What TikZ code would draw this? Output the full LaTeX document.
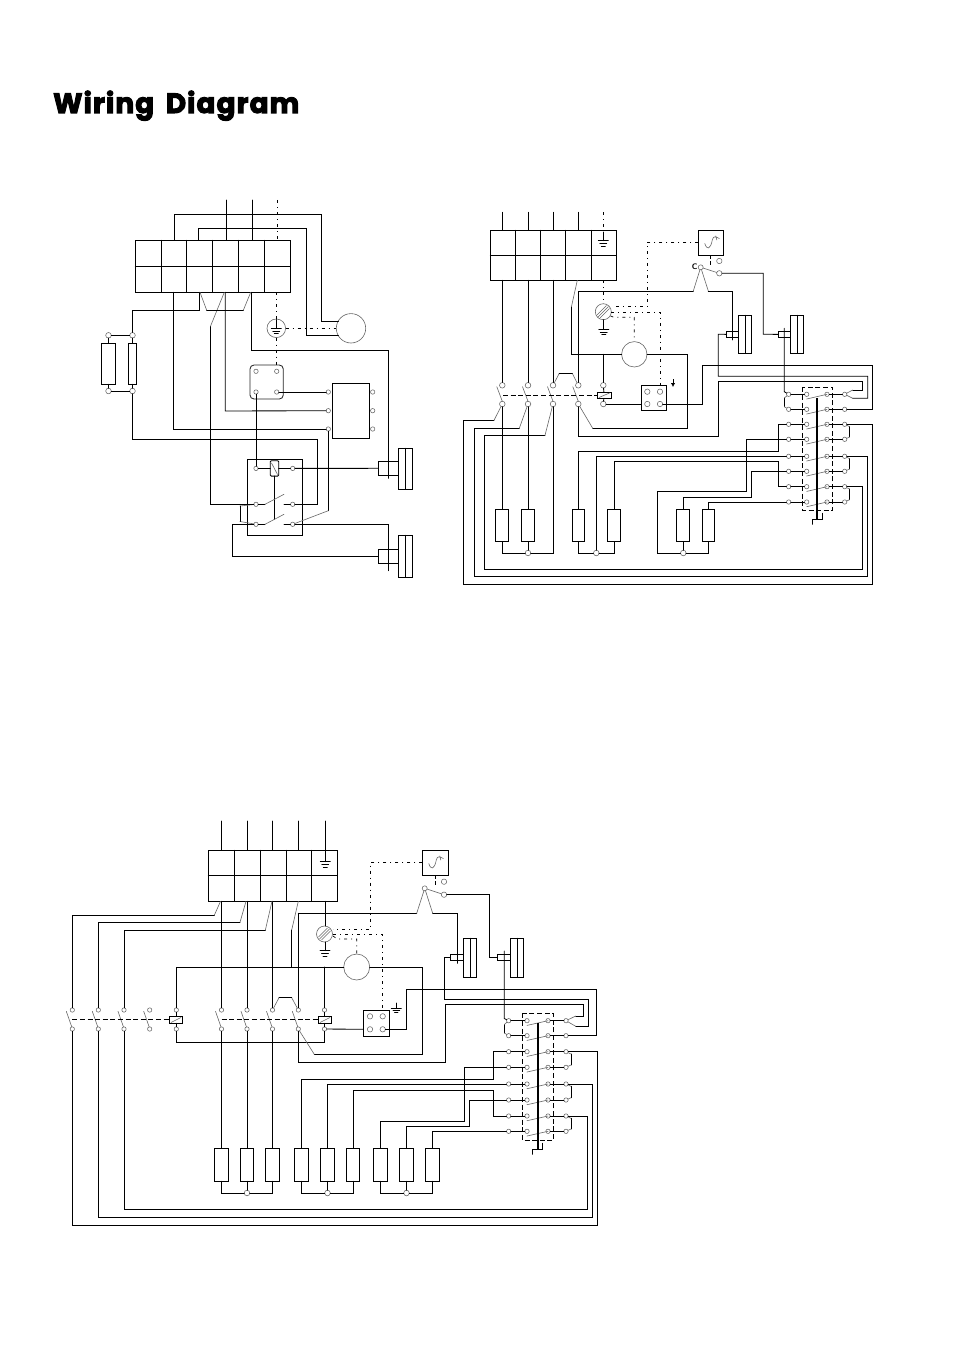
\documentclass[tikz,border=0pt]{standalone}
\usepackage{fontspec}
\usetikzlibrary{arrows.meta}
\newfontfamily\titlefont{Poppins}[BoldFeatures={FakeBold=3.6},LetterSpace=4]
\tikzset{
  wire/.style={draw=black,line width=0.85pt,line cap=round,line join=miter},
  blade/.style={draw=black!60,line width=0.6pt,line cap=round},
  dashdot/.style={draw=black,line width=0.7pt,dash pattern=on 3pt off 4pt on 1pt off 4pt},
  dashline/.style={draw=black,line width=0.85pt,dash pattern=on 5pt off 2.6pt},
  term/.style={circle,draw=black!60,line width=0.55pt,inner sep=0pt,outer sep=0pt,minimum size=4.4pt},
  bigterm/.style={term,minimum size=5.6pt},
  rbox/.style={rectangle,draw=black,line width=0.85pt,inner sep=0pt,outer sep=0pt},
  round motor/.style={circle,draw=black!60,line width=0.6pt,inner sep=0pt,outer sep=0pt},
  rod/.style={draw=black,line width=1.8pt},
}
% named rectangle from corners
\newcommand\rb[6][]{\pgfmathsetlengthmacro\rbw{(#5)-(#3)}\pgfmathsetlengthmacro\rbh{(#6)-(#4)}%
  \node[rbox,minimum width=\rbw,minimum height=\rbh,#1] (#2) at ({((#3)+(#5))/2},{((#4)+(#6))/2}) {};}
% heater: name, centre x, half width, top, bottom
\newcommand\heater[5]{\rb{#1}{#2-#3}{#4}{#2+#3}{#5}}
\newcommand\gnd[2]{\draw[wire] (#1-5,#2)--(#1+5,#2) (#1-3.4,#2+2.7)--(#1+3.4,#2+2.7) (#1-2,#2+5.4)--(#1+2,#2+5.4);}
\newcommand\wave[2]{\draw[blade] (#1+6.5,#2+13.5) .. controls (#1+8.5,#2+20) and (#1+12,#2+20) .. (#1+14,#2+10) .. controls (#1+15,#2+5) and (#1+18,#2+7) .. (#1+21,#2+8.5) (#1+17.5,#2+6)--(#1+18.5,#2+10);}
\newcommand\screw[3]{\node[round motor,minimum size=16pt] (#1) at (#2,#3) {};
  \draw[blade] (#2-6,#3+3)--(#2+3,#3-6) (#2-5,#3+5)--(#2+5,#3-5) (#2-3,#3+6)--(#2+6,#3-3);}
% switch bank: prefix, x outer, x in, x out, x far, y list as /-separated
\newcommand\bank[6]{%
  \foreach \n/\y in {#6}{%
    \node[term] (#1o\n) at (#2,\y) {};
    \node[term] (#1p\n) at (#3,\y) {};
    \node[term] (#1q\n) at (#4,\y) {};
    \node[term] (#1r\n) at (#5,\y) {};
    \draw[wire] (#1o\n)--(#1p\n) (#1q\n)--(#1r\n);
    \draw[blade] (#3,\y+4.7)--(#4,\y);
  }}
% double fan unit: name, x small left, x big left, x mid, x big right, y small top, y small bot, y big top, y big bot
\newcommand\fan[9]{\rb{#1s}{#2}{#6}{#3}{#7}\rb{#1b}{#3}{#8}{#5}{#9}\draw[wire] (#4,#8)--(#4,#9);}
\begin{document}
\begin{tikzpicture}[x=1pt,y=-1pt]
\useasboundingbox (0,0) rectangle (954,1351);
\fill[white] (0,0) rectangle (954,1351);
\node[anchor=base west,inner sep=0pt] (title) at (53,113) {\resizebox{246pt}{!}{\titlefont\bfseries Wiring\, Diagram}};

%%%%%%%%%%%%%%%%%%%% DIAGRAM 1
\rb{blockA}{135.3}{240.3}{290.3}{292.3}
\draw[wire] (135.3,266.3)--(290.3,266.3);
\foreach \x in {161.3,186.3,212.3,238.3,264.3} \draw[wire] (\x,240.3)--(\x,292.3);
\foreach \x in {226.3,252.3} \draw[wire] (\x,200)--(\x,240.3);
\draw[dashdot] (277.3,200)--(277.3,240.3);
\node[round motor,minimum size=29.4pt] (mA) at (351,328.3) {};
\node[round motor,minimum size=18.6pt] (eA) at (276.3,328.3) {};
\draw[wire] (276.3,319.5)--(276.3,328.3); \gnd{276.3}{328.3}
\draw[dashdot] (276.3,292.3)--(eA) (eA)--(mA) (eA)--(276.3,365);
\draw[wire] (174.3,240.3)--(174.3,214.3)--(321.3,214.3)--(321.3,321.3)--(338.5,321.3);
\draw[wire] (198.3,240.3)--(198.3,228.3)--(306.3,228.3)--(306.3,335.3)--(338.5,335.3);
% heaters
\rb{hA1}{101.3}{343.3}{115.7}{384.3}
\rb{hA2}{128.3}{343.3}{136.7}{384.3}
\node[bigterm] (a1) at (108.5,335.3) {};
\node[bigterm] (a2) at (132.5,335.3) {};
\node[bigterm] (a3) at (108.5,391) {};
\node[bigterm] (a4) at (132.5,391) {};
\draw[wire] (a1)--(a2) (a3)--(a4) (a1)--(hA1) (a2)--(hA2) (a3)--(hA1) (a4)--(hA2);
\draw[wire] (a2)--(132.5,310.3)--(199.3,310.3)--(199.3,292.3);
\draw[blade] (200,292.3)--(206.7,310.3) (243.3,310.3)--(250.7,292.3) (224.3,292.3)--(210.3,326.7);
\draw[wire] (206.7,310.3)--(243.3,310.3);
\draw[wire] (251.7,292.3)--(251.7,350.3)--(388.3,350.3)--(388.3,478.3);
% rounded square
\draw[wire,rounded corners=4pt,draw=black!85] (250,365) rectangle (283.3,399);
\node[term] (a5) at (256,371.3) {};
\node[term] (a6) at (276.7,371.3) {};
\node[term] (a7) at (256,392) {};
\node[term] (a8) at (276.7,392) {};
% contactor box
\rb{boxA}{332.3}{383.3}{369.3}{438.3}
\foreach \n/\y in {1/392,2/410.7,3/429}{\node[term] (b\n) at (328.3,\y) {}; \node[term] (bb\n) at (372.7,\y) {};}
\draw[wire] (a8)--(b1);
\draw[wire] (225.3,292.3)--(225.3,411)--(b2);
\draw[wire] (173.3,292.3)--(173.3,429)--(b3);
% relay
\rb{relayA}{247.3}{459.3}{302.3}{535.3}
\node[rbox,rounded corners=1pt,minimum width=8.4pt,minimum height=15.4pt] (coilA) at (274.5,468.4) {};
\draw[blade] (271.5,463)--(277.5,474.5);
\node[term] (c1) at (256,468.4) {};
\node[term] (c2) at (292.7,468.4) {};
\node[term] (c3) at (256,504.3) {};
\node[term] (c4) at (292.7,504.3) {};
\node[term] (c5) at (256,524.3) {};
\node[term] (c6) at (292.7,524.3) {};
\draw[wire] (c1)--(coilA) (coilA)--(c2);
\draw[wire] (coilA.south)--(274.5,519.3);
\draw[wire] (a7)--(c1);
\draw[wire] (c3)--(265,504.3) (284,504.3)--(c4);
\draw[wire] (c5)--(265,524.3) (284,524.3)--(c6);
\draw[blade] (265,504.3)--(284,494.3) (265,524.3)--(284,514.3);
\draw[blade] (c3)--(240,506) (240,521.5)--(c5);
\draw[wire] (240,506)--(240,521.5);
\draw[wire] (210.3,326.7)--(210.3,504.3)--(c3);
\draw[wire] (a4)--(132.5,439.3)--(317.7,439.3)--(317.7,504.3)--(c4);
\draw[wire] (b3)--(328.3,510.7);
\draw[blade] (328.3,510.7)--(c6);
\fan{fA}{378.3}{398.3}{405.3}{412.7}{461.3}{475.3}{448.3}{489.3}
\fan{fB}{378.3}{398.3}{405.3}{412.7}{549.3}{563.3}{535.3}{577.3}
\draw[wire] (c2)--(fAs);
\draw[wire] (c5)--(232.3,524.3)--(232.3,556.3)--(fBs);
\draw[wire] (c6)--(388.3,524.3)--(388.3,570.7);

%%%%%%%%%%%%%%%%%%%% DIAGRAM 2
\rb{blockB}{490.3}{230.3}{616.3}{280.3}
\draw[wire] (490.3,255.3)--(616.3,255.3);
\foreach \x in {515.3,540.3,565.3,591.3} \draw[wire] (\x,230.3)--(\x,280.3);
\foreach \x in {502.3,528,553,578.3} \draw[wire] (\x,212.3)--(\x,230.3);
\draw[dashdot] (603.3,212.3)--(603.3,231);
\draw[wire] (603.3,232)--(603.3,240.7); \gnd{603.3}{240.7}
\draw[dashdot] (603.3,280.3)--(603.3,303.5);
\screw{eB}{603.3}{311.7}
\draw[wire] (603.8,319.7)--(603.8,329.3); \gnd{603.8}{329.3}
\node[round motor,minimum size=25.4pt] (mB) at (634.3,354.3) {};
% contacts
\foreach \n/\x in {1/502.3,2/528,3/553,4/578.3,5/603.3}{
  \node[bigterm] (u\n) at (\x,385.3) {};
  \node[bigterm] (l\n) at (\x,404) {};
}
\foreach \x in {502.3,528,553,578.3} \draw[blade] (\x-5.5,386.7)--(\x,401.3);
\draw[dashline] (503,395.3)--(597.3,395.3);
\rb{coilB}{597.3}{392.3}{611}{398.3}
\draw[blade] (599,397.5)--(609.5,393);
\draw[wire] (u5)--(603.3,354.3);
\draw[wire] (u5)--(coilB) (coilB)--(l5);
\rb{qB}{641.3}{385.3}{666.7}{410.7}
\node[term,minimum size=5.4pt] (q1) at (647.3,391.7) {};
\node[term,minimum size=5.4pt] (q2) at (660,391.7) {};
\node[term,minimum size=5.4pt] (q3) at (647.3,404) {};
\node[term,minimum size=5.4pt] (q4) at (660,404) {};
\draw[wire] (l5)--(641.3,404);
\draw[-{Latex[length=4pt,width=4.5pt]},line width=1pt] (673,379)--(673,387);
\draw[wire] (502.3,280.3)--(u1);
\draw[wire] (528,280.3)--(u2);
\draw[wire] (553,280.3)--(u3);
\draw[blade] (577.3,280.3)--(571.3,307.3);
\draw[wire] (571.3,307.3)--(571.3,354.3)--(mB);
\draw[blade] (u3)--(559.3,373.3) (572.3,373.3)--(u4);
\draw[wire] (559.3,373.3)--(572.3,373.3);
\draw[wire] (u4)--(578.3,291)--(693.3,291);
% pressure switch
\rb{psB}{698.3}{230}{723.7}{255.3}
\wave{698.3}{230}
\node[term,minimum size=5pt] (pc) at (700.7,267.3) {};
\node[term,minimum size=5.4pt] (pu) at (719.3,261) {};
\node[term,minimum size=5.4pt] (pl) at (719.3,273.3) {};
\node[font=\fontsize{8}{8}\selectfont\bfseries\sffamily,inner sep=0pt] (cB) at (694.6,267) {C};
\draw[dashdot,dash pattern=on 4pt off 1.5pt on 4pt] (710.7,255.3)--(710.7,265);
\draw[blade] (693.3,291)--(pc) (pc)--(708.3,291) (pc)--(pl);
\draw[dashdot] (698.3,242.3)--(647.3,242.3)--(647.3,306.7)--(612,306.7);
\draw[dashdot] (611.3,312.3)--(660.7,312.3)--(660.7,385.3);
\draw[dashdot] (610.5,316)--(614,317.3)--(634.3,317.3)--(634.3,341);
\fan{fC}{726.3}{738.3}{745.3}{751.7}{331}{337.7}{315.3}{353.3}
\fan{fD}{778.3}{790.3}{797.3}{803.7}{331}{337.7}{315.3}{353.3}
\draw[wire] (708.3,291)--(732.3,291)--(732.3,340);
\draw[wire] (pl)--(763.3,273.3)--(763.3,334.3)--(fDs);
\draw[wire] (mB)--(687.3,354.3)--(687.3,428.3)--(592.7,428.3);
\draw[blade] (592.7,428.3)--(l4);
\draw[wire] (l4)--(578.3,436.3)--(718.3,436.3)--(718.3,381.5)--(862.7,381.5)--(862.7,390)--(852.7,390);
\draw[wire] (fCs)--(718.3,334.3)--(718.3,376.3)--(867.7,376.3)--(867.7,398.3)--(852.7,398.3);
% heaters
\heater{rB1}{502.3}{6.5}{509.3}{541.5}
\heater{rB2}{528}{6.5}{509.3}{541.5}
\heater{rB3}{578.3}{6.2}{509.3}{541.5}
\heater{rB4}{614.3}{6.5}{509.3}{541.5}
\heater{rB5}{683.3}{6.5}{509.3}{541.5}
\heater{rB6}{708.3}{6.2}{509.3}{541.5}
\node[bigterm] (s1) at (528,553) {};
\node[bigterm] (s2) at (596.3,553) {};
\node[bigterm] (s3) at (683.3,553) {};
\draw[wire] (l1)--(rB1) (l2)--(rB2) (rB2)--(s1);
\draw[wire] (rB1.south)--(502.3,553)--(s1) (s1)--(553,553)--(l3);
\draw[wire] (rB3.south)--(578.3,553)--(s2) (s2)--(614.3,553)--(rB4.south);
\draw[wire] (rB5)--(s3) (s3)--(708.3,553)--(rB6.south);
% bank
\draw[dashline] (802.3,387.3) rectangle (832.7,510.3);
\bank{k}{788.7}{806.7}{827}{844.7}{1/394.3,2/409.3,3/424.3,4/439.3,5/456.3,6/471.3,7/486.7,8/502}
\draw[rod] (817,398.3)--(817,519.3);
\draw[wire] (822.7,513.3)--(822.7,519.3)--(812.3,519.3)--(812.3,524.3);
\draw[wire] (784.3,328.3)--(784.3,391.7)--(ko1);
\draw[wire] (784.3,398)--(784.3,406.7);
\draw[blade] (ko1)--(784.3,398) (784.3,406.7)--(ko2);
\draw[blade] (kr1)--(852.7,390) (kr1)--(852.7,398.3);
\draw[wire] (kr2)--(872.7,409.3)--(872.7,365.7)--(702.3,365.7)--(702.3,404)--(q4);
\foreach \a/\b/\p/\q in {3/4/424.3/439.3,5/6/456.3/471.3,7/8/486.7/502}{
  \draw[wire] (849.5,\p+2.3)--(849.5,\q-2.3);
  \draw[blade] (kr\a)--(849.5,\p+2.3) (849.5,\q-2.3)--(kr\b);
}
\draw[wire] (ko3)--(778.7,424.3)--(778.7,451.3)--(578.3,451.3)--(rB3);
\draw[wire] (ko4)--(746.7,439.3)--(746.7,491.5)--(657.7,491.5)--(657.7,553)--(s3);
\draw[wire] (ko5)--(596.3,456.3)--(s2);
\draw[wire] (ko7)--(778.7,486.7)--(778.7,461.5)--(614.3,461.5)--(rB4);
\draw[wire] (ko6)--(751.7,471.3)--(751.7,497)--(683.3,497)--(rB5);
\draw[wire] (ko8)--(708.3,502)--(rB6);
\draw[wire] (kr3)--(872.7,424.3)--(872.7,584)--(463.3,584)--(463.3,420.3)--(494,420.3);
\draw[blade] (494,420.3)--(l1);
\draw[wire] (kr5)--(867.7,456.3)--(867.7,576.3)--(474.3,576.3)--(474.3,428.3)--(519.3,428.3);
\draw[blade] (519.3,428.3)--(l2);
\draw[wire] (kr7)--(862.7,486.7)--(862.7,569.3)--(484.3,569.3)--(484.3,435.3)--(545,435.3);
\draw[blade] (545,435.3)--(l3);

%%%%%%%%%%%%%%%%%%%% DIAGRAM 3
\rb{blockC}{208.3}{850.3}{337.3}{901.3}
\draw[wire] (208.3,875.3)--(337.3,875.3);
\foreach \x in {234.3,260.3,286.3,311.7} \draw[wire] (\x,850.3)--(\x,901.3);
\foreach \x in {221.5,247,272.5,298.3} \draw[wire] (\x,821)--(\x,850.3);
\draw[wire] (325.3,821)--(325.3,861.7); \gnd{325.3}{861.7}
\screw{eC}{324.5}{934}
\draw[wire] (325.3,901.3)--(325.3,926);
\draw[wire] (325,942)--(325,950.7); \gnd{325}{950.7}
\node[round motor,minimum size=26pt] (mC) at (356.7,967) {};
\foreach \n/\x in {1/72.3,2/98.3,3/124,4/149.7,5/176.3,6/221.5,7/247,8/272.5,9/298.3,10/324.5}{
  \node[term] (v\n) at (\x,1010) {};
  \node[term] (w\n) at (\x,1029) {};
}
\foreach \x in {72.3,98.3,124,149.7,221.5,247,272.5,298.3} \draw[blade] (\x-6,1011.3)--(\x-0.5,1027);
\draw[dashline] (72.3,1019.5)--(169.3,1019.5) (221.5,1019.5)--(318.3,1019.5);
\rb{coilC1}{169.3}{1016.3}{182.7}{1023.3}
\rb{coilC2}{318.3}{1016.3}{331.7}{1023.3}
\draw[blade] (171,1022.5)--(181,1017.5) (320,1022.5)--(330,1017.5);
\draw[wire] (v5)--(176.3,1016.3) (w5)--(176.3,1023.3);
\draw[wire] (v10)--(324.5,1016.3) (w10)--(324.5,1023.3);
\draw[wire] (v5)--(176.3,967)--(343.8,967);
\draw[wire] (v10)--(324.5,967);
\draw[wire] (w5)--(176.3,1042.3)--(324.5,1042.3)--(w10);
\draw[wire] (221.5,901.3)--(v6);
\draw[wire] (247,901.3)--(v7);
\draw[wire] (272.5,901.3)--(v8);
\draw[wire] (298.3,913.3)--(v9);
\draw[blade] (298.3,901.3)--(291.7,930);
\draw[wire] (291.7,930)--(291.7,967);
\draw[blade] (220.5,901.3)--(214.3,915.3) (246,901.3)--(240,922.3) (272,901.3)--(265.3,930.3);
\draw[wire] (214.3,915.3)--(72.3,915.3)--(v1);
\draw[wire] (240,922.3)--(98.3,922.3)--(v2);
\draw[wire] (265.3,930.3)--(124,930.3)--(v3);
\draw[blade] (v8)--(279,997.7) (291.7,997.7)--(v9);
\draw[wire] (279,997.7)--(291.7,997.7);
\draw[wire] (298.3,913.3)--(416.7,913.3);
\rb{qC}{363.3}{1010.3}{389.7}{1036.3}
\node[term,minimum size=5.4pt] (x1) at (370,1016.3) {};
\node[term,minimum size=5.4pt] (x2) at (382.7,1016.3) {};
\node[term,minimum size=5.4pt] (x3) at (370,1029.3) {};
\node[term,minimum size=5.4pt] (x4) at (382.7,1029.3) {};
\draw[wire] (w10)--(363.3,1029.3);
\draw[wire] (396.3,1003)--(396.3,1008.3);
\draw[wire] (391.3,1008.3)--(401.3,1008.3) (393,1010.3)--(399.6,1010.3) (394.6,1012.3)--(398,1012.3);
\rb{psC}{422.3}{850}{448.7}{875.3}
\wave{422.3}{850}
\node[term,minimum size=5pt] (pcC) at (424.7,888.3) {};
\node[term,minimum size=5.4pt] (puC) at (444,881.7) {};
\node[term,minimum size=5.4pt] (plC) at (444,894.7) {};
\draw[dashdot,dash pattern=on 4pt off 1.5pt on 4pt] (435.7,875.3)--(435.7,888);
\draw[blade] (416.7,913.3)--(pcC) (pcC)--(432.7,913.3) (pcC)--(plC);
\draw[dashdot] (422.3,862.3)--(370.7,862.3)--(370.7,929)--(333,929);
\draw[dashdot] (333,934.3)--(382.3,934.3)--(382.3,1010);
\draw[dashdot] (333,936)--(337.3,939)--(356.7,939)--(356.7,954);
\fan{fE}{450.3}{463.3}{470.3}{476.7}{954.3}{960.3}{938.3}{977.3}
\fan{fF}{497.3}{510.3}{517}{523.7}{954.3}{960.3}{938.3}{977.3}
\draw[wire] (432.7,913.3)--(457.3,913.3)--(457.3,963.3);
\draw[wire] (plC)--(489,894.7)--(489,957.3)--(fFs);
\draw[wire] (mC)--(422.3,967)--(422.3,1054.3)--(314.3,1054.3);
\draw[blade] (314.3,1054.3)--(w9);
\draw[wire] (w9)--(298.3,1062.3)--(445.7,1062.3)--(445.7,1004.3)--(583.3,1004.3)--(583.3,1016)--(575.7,1016);
\draw[wire] (fEs)--(444.3,957.3)--(444.3,999.3)--(588.3,999.3)--(588.3,1026.3)--(575.7,1026.3);
% heaters
\foreach \n/\x in {1/221.5,2/247,3/272.5,4/301.5,5/327.5,6/353.3,7/380.5,8/406.5,9/432.5}{
  \heater{rC\n}{\x}{6.6}{1148.3}{1181.3}
}
\draw[wire] (w6)--(rC1) (w7)--(rC2) (w8)--(rC3);
\node[bigterm] (y1) at (247,1193) {};
\node[bigterm] (y2) at (327.5,1193) {};
\node[bigterm] (y3) at (406.5,1193) {};
\draw[wire] (rC2)--(y1) (rC5)--(y2) (rC8)--(y3);
\draw[wire] (rC1.south)--(221.5,1193)--(y1) (y1)--(272.5,1193)--(rC3.south);
\draw[wire] (rC4.south)--(301.5,1193)--(y2) (y2)--(353.3,1193)--(rC6.south);
\draw[wire] (rC7.south)--(380.5,1193)--(y3) (y3)--(432.5,1193)--(rC9.south);
% bank
\draw[dashline] (522.3,1013.3) rectangle (553.3,1140.3);
\bank{n}{508.7}{527}{548}{566}{1/1020.7,2/1035.7,3/1051.7,4/1067.3,5/1084,6/1100,7/1116,8/1131.3}
\draw[rod] (538,1023.3)--(538,1149.3);
\draw[wire] (542.7,1143.3)--(542.7,1149.3)--(532.7,1149.3)--(532.7,1154.3);
\draw[wire] (504.3,951)--(504.3,1018.5)--(no1);
\draw[wire] (504.3,1024.5)--(504.3,1033);
\draw[blade] (no1)--(504.3,1024.5) (504.3,1033)--(no2);
\draw[blade] (nr1)--(575.7,1016) (nr1)--(575.7,1026.3);
\draw[wire] (nr2)--(596.7,1035.7)--(596.7,989.7)--(406.3,989.7)--(406.3,1029.3)--(x4);
\foreach \a/\b/\p/\q in {3/4/1051.7/1067.3,5/6/1084/1100,7/8/1116/1131.3}{
  \draw[wire] (571,\p+2.3)--(571,\q-2.3);
  \draw[blade] (nr\a)--(571,\p+2.3) (571,\q-2.3)--(nr\b);
}
\draw[wire] (no3)--(493.7,1051.7)--(493.7,1079.3)--(301.5,1079.3)--(rC4);
\draw[wire] (no4)--(464.3,1067.3)--(464.3,1121)--(380.5,1121)--(rC7);
\draw[wire] (no5)--(327.5,1084)--(rC5);
\draw[wire] (no6)--(469.3,1100)--(469.3,1126.3)--(406.5,1126.3)--(rC8);
\draw[wire] (no7)--(493.7,1116)--(493.7,1090.3)--(353.3,1090.3)--(rC6);
\draw[wire] (no8)--(432.5,1131.3)--(rC9);
\draw[wire] (nr3)--(597.7,1051.7)--(597.7,1225.3)--(72.3,1225.3)--(w1);
\draw[wire] (nr5)--(592.3,1084)--(592.3,1217.3)--(98.3,1217.3)--(w2);
\draw[wire] (nr7)--(587.3,1116)--(587.3,1209.3)--(124,1209.3)--(w3);
\end{tikzpicture}
\end{document}
